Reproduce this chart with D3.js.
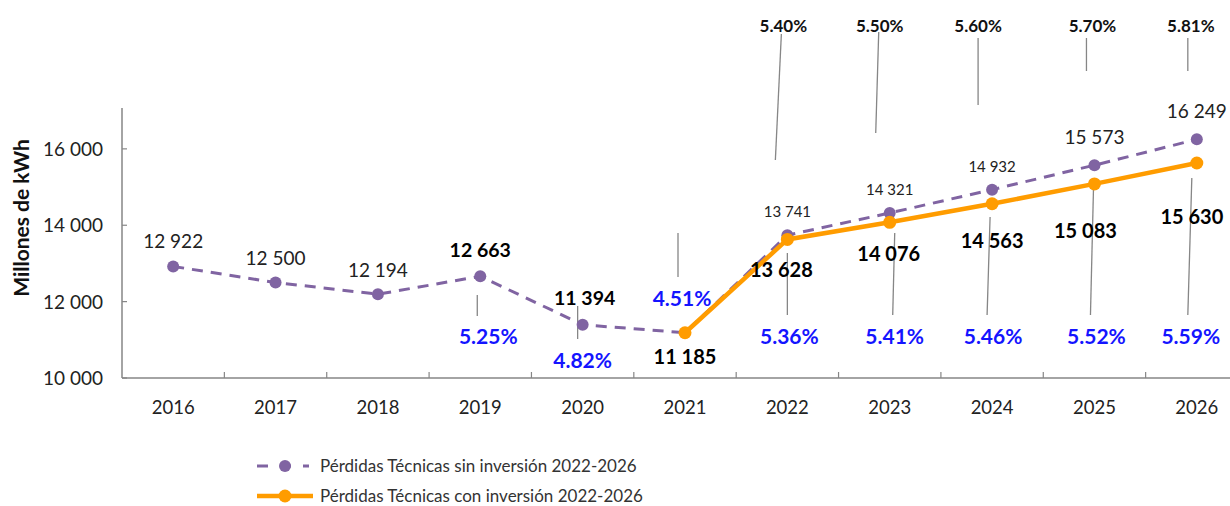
<!DOCTYPE html>
<html>
<head>
<meta charset="utf-8">
<script src="https://cdn.jsdelivr.net/npm/d3@7"></script>
<style>
	body{ margin:0; background:#fff; }
	svg{ display:block; font-family:Lato, "Open Sans", sans-serif; }
</style>
</head>
<body>
<div id="chart"></div>
<script>
// data
var years = ["2016","2017","2018","2019","2020","2021","2022","2023","2024","2025","2026"];
var sinInversion = [12922, 12500, 12194, 12663, 11394, 11185, 13741, 14321, 14932, 15573, 16249];
var conInversion = [null, null, null, null, null, 11185, 13628, 14076, 14563, 15083, 15630];
var pctBlueYears = ["2019","2020","2021","2022","2023","2024","2025","2026"];
var pctBlue = ["5.25%","4.82%","4.51%","5.36%","5.41%","5.46%","5.52%","5.59%"];
var pctTopYears = ["2022","2023","2024","2025","2026"];
var pctTop = ["5.40%","5.50%","5.60%","5.70%","5.81%"];
var yTicks = [10000, 12000, 14000, 16000];
var legendLabels = ["Pérdidas Técnicas sin inversión 2022-2026", "Pérdidas Técnicas con inversión 2022-2026"];

// layout of labels (pixel offsets from the point, not data)
var sinLabelLayout = [
	{dx:0, dy:-18, size:19, bold:false},
	{dx:0, dy:-18, size:19, bold:false},
	{dx:0, dy:-17, size:19, bold:false},
	{dx:0, dy:-19, size:19.5, bold:true},
	{dx:2, dy:-20, size:19.5, bold:true},
	null,
	{dx:0, dy:-18, size:15, bold:false},
	{dx:0, dy:-18, size:15, bold:false},
	{dx:0, dy:-18, size:15, bold:false},
	{dx:0, dy:-21, size:19, bold:false},
	{dx:0, dy:-21, size:19, bold:false}
];
var conLabelLayout = [null,null,null,null,null,
	{dx:0, dy:31},
	{dx:-6, dy:38},
	{dx:-1, dy:39},
	{dx:0, dy:44},
	{dx:-9, dy:54},
	{dx:-5, dy:61}
];
var blueLayout = [ {dx:8, y:344}, {dx:0, y:368}, {dx:-3, y:306}, {dx:2, y:344}, {dx:5, y:344}, {dx:1, y:344}, {dx:2, y:344}, {dx:-6, y:344} ];
var blueLeaders = [ [-3,295,-3,316], [-5,306,-5,339], [-7,233,-7,277], [0,253,0,315], [5,233,3,315], [-2,217,-5,315], [-1,190,-4,315], [-5,178,-9,315] ];
var topLeaders = [ [-6,34,-12,160], [-11,32,-14,133], [-14,38,-14,105], [-8,38,-8,71], [-9,38,-9,71] ];
var topDx = [-4, -10, -14, -2, -6];

var width = 1230, height = 506;
var margin = {top: 108, right: -18, bottom: 128, left: 122};

var svg = d3.select("#chart")
	.append("svg")
	.attr("width", width)
	.attr("height", height);

var x = d3.scaleBand()
	.domain(years)
	.range([margin.left, width - margin.right])
	.paddingInner(0).paddingOuter(0);

var y = d3.scaleLinear()
	.domain([10000, 17070])
	.range([height - margin.bottom, margin.top]);

var cx = function(yr){ return x(yr) + x.bandwidth()/2; };
var grey = "#868686";

// axes
svg.append("line")
	.attr("x1", margin.left).attr("x2", margin.left)
	.attr("y1", y(17070)).attr("y2", y(10000))
	.attr("stroke", grey).attr("stroke-width", 1.5);
svg.append("line")
	.attr("x1", margin.left).attr("x2", x.range()[1])
	.attr("y1", y(10000)).attr("y2", y(10000))
	.attr("stroke", grey).attr("stroke-width", 1.5);

svg.selectAll(".ytick")
	.data(yTicks)
	.enter()
	.append("line")
	.attr("x1", margin.left).attr("x2", margin.left + 5)
	.attr("y1", function(d){ return y(d); }).attr("y2", function(d){ return y(d); })
	.attr("stroke", grey).attr("stroke-width", 1.2);

var fmt = function(v){ return d3.format(",")(v).replace(",", " "); };

svg.selectAll(".ylab")
	.data(yTicks)
	.enter()
	.append("text")
	.attr("x", 103)
	.attr("y", function(d){ return y(d) + 7; })
	.attr("text-anchor", "end")
	.attr("font-size", 19)
	.attr("fill", "#222")
	.text(function(d){ return fmt(d); });

svg.selectAll(".xtick")
	.data(years.slice(1))
	.enter()
	.append("line")
	.attr("x1", function(d){ return x(d); }).attr("x2", function(d){ return x(d); })
	.attr("y1", y(10000)).attr("y2", y(10000) - 6)
	.attr("stroke", grey).attr("stroke-width", 1.2);

svg.selectAll(".xlab")
	.data(years)
	.enter()
	.append("text")
	.attr("x", function(d){ return cx(d); })
	.attr("y", 414)
	.attr("text-anchor", "middle")
	.attr("font-size", 18.5)
	.attr("fill", "#222")
	.text(function(d){ return d; });

svg.append("text")
	.attr("transform", "translate(29,218) rotate(-90)")
	.attr("text-anchor", "middle")
	.attr("font-size", 21)
	.attr("font-weight", "bold")
	.attr("fill", "#111")
	.text("Millones de kWh");

// leader lines
svg.selectAll(".bl")
	.data(blueLeaders)
	.enter()
	.append("line")
	.attr("x1", function(d, i){ return cx(pctBlueYears[i]) + d[0]; })
	.attr("y1", function(d){ return d[1]; })
	.attr("x2", function(d, i){ return cx(pctBlueYears[i]) + d[2]; })
	.attr("y2", function(d){ return d[3]; })
	.attr("stroke", grey).attr("stroke-width", 1.3);

svg.selectAll(".tl")
	.data(topLeaders)
	.enter()
	.append("line")
	.attr("x1", function(d, i){ return cx(pctTopYears[i]) + d[0]; })
	.attr("y1", function(d){ return d[1]; })
	.attr("x2", function(d, i){ return cx(pctTopYears[i]) + d[2]; })
	.attr("y2", function(d){ return d[3]; })
	.attr("stroke", grey).attr("stroke-width", 1.3);

// lines
var purple = "#8064a2", orange = "#ff9c00";
var sinData = years.map(function(yr, i){ return {year: yr, v: sinInversion[i], i: i}; });
var conData = years.map(function(yr, i){ return {year: yr, v: conInversion[i], i: i}; }).filter(function(d){ return d.v != null; });

var line = d3.line()
	.x(function(d){ return cx(d.year); })
	.y(function(d){ return y(d.v); });

svg.append("path")
	.datum(sinData)
	.attr("d", line)
	.attr("fill", "none")
	.attr("stroke", purple)
	.attr("stroke-width", 3)
	.attr("stroke-dasharray", "11,8");

svg.selectAll(".sdot")
	.data(sinData.filter(function(d){ return d.year !== "2021"; }))
	.enter()
	.append("circle")
	.attr("cx", function(d){ return cx(d.year); })
	.attr("cy", function(d){ return y(d.v); })
	.attr("r", 6)
	.attr("fill", purple);

svg.append("path")
	.datum(conData)
	.attr("d", line)
	.attr("fill", "none")
	.attr("stroke", orange)
	.attr("stroke-width", 4.5);

svg.selectAll(".cdot")
	.data(conData)
	.enter()
	.append("circle")
	.attr("cx", function(d){ return cx(d.year); })
	.attr("cy", function(d){ return y(d.v); })
	.attr("r", 6.5)
	.attr("fill", orange);

// value labels
svg.selectAll(".slab")
	.data(sinData.filter(function(d){ return sinLabelLayout[d.i]; }))
	.enter()
	.append("text")
	.attr("x", function(d){ return cx(d.year) + sinLabelLayout[d.i].dx; })
	.attr("y", function(d){ return y(d.v) + sinLabelLayout[d.i].dy; })
	.attr("text-anchor", "middle")
	.attr("font-size", function(d){ return sinLabelLayout[d.i].size; })
	.attr("font-weight", function(d){ return sinLabelLayout[d.i].bold ? "bold" : "normal"; })
	.attr("fill", function(d){ return sinLabelLayout[d.i].bold ? "#000" : "#222"; })
	.text(function(d){ return fmt(d.v); });

svg.selectAll(".clab")
	.data(conData)
	.enter()
	.append("text")
	.attr("x", function(d){ return cx(d.year) + conLabelLayout[d.i].dx; })
	.attr("y", function(d){ return y(d.v) + conLabelLayout[d.i].dy; })
	.attr("text-anchor", "middle")
	.attr("font-size", 20)
	.attr("font-weight", "bold")
	.attr("fill", "#000")
	.text(function(d){ return fmt(d.v); });

svg.selectAll(".blab")
	.data(pctBlue)
	.enter()
	.append("text")
	.attr("x", function(d, i){ return cx(pctBlueYears[i]) + blueLayout[i].dx; })
	.attr("y", function(d, i){ return blueLayout[i].y; })
	.attr("text-anchor", "middle")
	.attr("font-size", 21)
	.attr("font-weight", "bold")
	.attr("fill", "#1414ff")
	.text(function(d){ return d; });

svg.selectAll(".tlab")
	.data(pctTop)
	.enter()
	.append("text")
	.attr("x", function(d, i){ return cx(pctTopYears[i]) + topDx[i]; })
	.attr("y", 32)
	.attr("text-anchor", "middle")
	.attr("font-size", 17)
	.attr("font-weight", "bold")
	.attr("fill", "#111")
	.text(function(d){ return d; });

// legend
var lg = svg.append("g");
lg.append("line").attr("x1", 257).attr("x2", 309).attr("y1", 466).attr("y2", 466)
	.attr("stroke", purple).attr("stroke-width", 3).attr("stroke-dasharray", "11,12");
lg.append("circle").attr("cx", 285).attr("cy", 466).attr("r", 6).attr("fill", purple);
lg.append("line").attr("x1", 257).attr("x2", 313).attr("y1", 496).attr("y2", 496)
	.attr("stroke", orange).attr("stroke-width", 4.5);
lg.append("circle").attr("cx", 285).attr("cy", 496).attr("r", 6.5).attr("fill", orange);
lg.selectAll("text")
	.data(legendLabels)
	.enter()
	.append("text")
	.attr("x", 320)
	.attr("y", function(d, i){ return 472 + i * 30; })
	.attr("font-size", 17)
	.attr("fill", "#333")
	.text(function(d){ return d; });
</script>
</body>
</html>
